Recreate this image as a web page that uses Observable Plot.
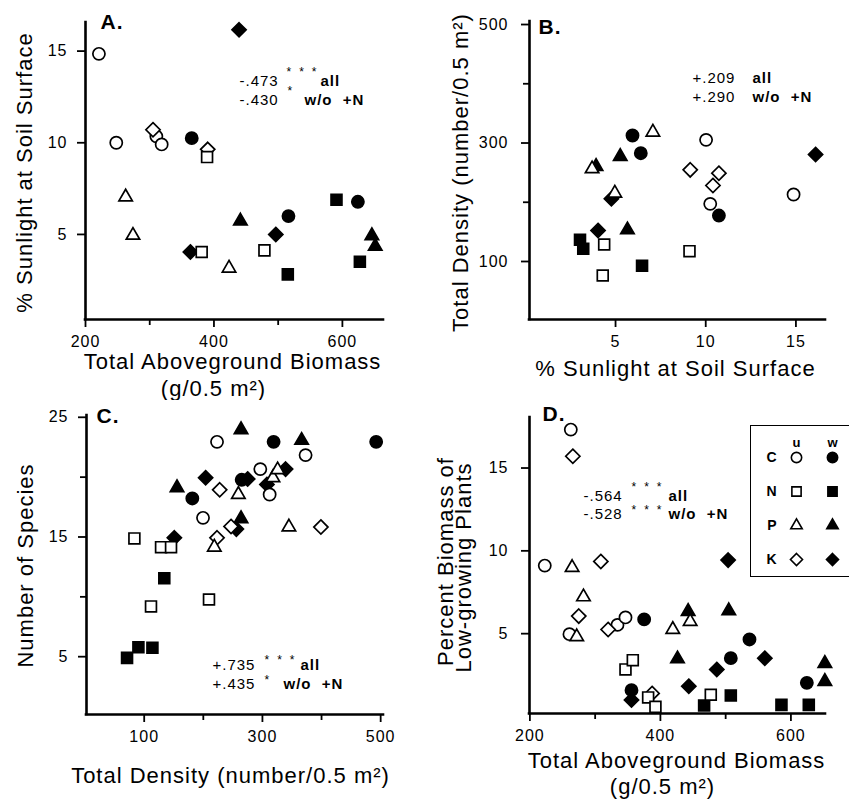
<!DOCTYPE html>
<html><head><meta charset="utf-8">
<script src="https://cdn.jsdelivr.net/npm/d3@7"></script>
<script src="https://cdn.jsdelivr.net/npm/@observablehq/plot@0.6"></script>
<style>
html,body{margin:0;padding:0;background:#fff;overflow:hidden}
#fig{position:relative;width:849px;height:802px;overflow:hidden}
#fig>svg{position:absolute;max-width:none}
</style></head><body><div id="fig"></div>
<script>
// ---------- DATA (group code: treatment letter + u/w) ----------
// Panel A: Total aboveground biomass vs % sunlight at soil surface
const aGroup = ["Cu","Cu","Cu","Cu","Ku","Ku","Nu","Nu","Nu","Cw","Cw","Cw","Kw","Kw","Kw","Pu","Pu","Pu","Pw","Pw","Pw","Nw","Nw","Nw"];
const aX = [220.9,247.9,310.3,318.6,305.1,390.3,389.3,380.9,478.6,365.4,516.0,624.1,439.1,363.3,496.3,262.5,273.9,423.5,441.2,645.9,651.1,515.0,590.8,627.2];
const aY = [14.85,10.0,10.35,9.91,10.71,9.64,9.22,4.04,4.13,10.25,6.0,6.78,16.16,4.04,5.0,7.04,4.95,3.16,5.73,4.93,4.35,2.82,6.89,3.51];

// Panel B: % sunlight vs total density
const bGroup = ["Cw","Cw","Cw","Pu","Pu","Pu","Pw","Pw","Pw","Kw","Kw","Kw","Nw","Nw","Nw","Nu","Nu","Nu","Cu","Cu","Cu","Ku","Ku","Ku"];
const bX = [5.94,6.40,10.73,7.07,3.70,4.96,5.26,3.92,5.66,4.77,4.03,16.09,3.03,3.21,6.47,4.37,4.29,9.10,10.02,10.25,14.87,9.14,10.73,10.40];
const bY = [312.7,282.8,177.6,318.3,256.4,215.3,277.2,260.3,153.4,205.8,152.3,280.6,136.6,121.4,92.7,128.7,76.4,117.4,305.3,197.3,213.1,254.7,249.1,228.3];

// Panel C: total density vs number of species
const cGroup = ["Nw","Nw","Nw","Nw","Nu","Nu","Nu","Nu","Nu","Kw","Kw","Kw","Kw","Kw","Kw","Pw","Pw","Pw","Pw","Cw","Cw","Cw","Cw","Cu","Cu","Cu","Cu","Cu","Ku","Ku","Ku","Ku","Pu","Pu","Pu","Pu","Pu"];
const cX = [71.0,90.2,113.9,134.0,111.5,83.4,128.5,145.4,209.6,151.0,203.9,255.9,275.0,339.2,307.6,155.5,263.8,263.8,366.3,181.4,264.9,318.9,492.4,199.5,223.2,296.4,312.2,373.0,227.7,223.2,246.9,398.9,218.6,259.3,317.8,325.7,344.8];
const cY = [4.90,5.79,5.74,11.56,9.20,14.88,14.15,14.15,9.78,14.93,19.95,15.66,19.84,20.67,19.39,19.11,16.52,23.96,23.07,18.22,19.78,22.95,22.95,16.60,22.95,20.67,18.55,21.84,18.94,14.93,15.88,15.83,14.15,18.55,19.95,20.61,15.83];

// Panel D: total aboveground biomass vs percent biomass of low-growing plants
const dGroup = ["Cu","Cu","Cu","Cu","Cu","Ku","Ku","Ku","Ku","Ku","Pu","Pu","Pu","Pu","Pu","Cw","Cw","Cw","Cw","Cw","Nu","Nu","Nu","Nu","Nu","Kw","Kw","Kw","Kw","Kw","Pw","Pw","Pw","Pw","Pw","Nw","Nw","Nw","Nw"];
const dX = [262.7,222.8,260.6,334.2,346.5,265.8,308.7,274.9,319.9,387.3,264.7,282.1,271.8,419.0,445.6,375.1,355.7,507.9,536.5,624.4,346.5,357.7,381.2,392.4,477.2,355.7,443.5,486.4,503.8,560.0,426.2,442.5,504.8,652.0,652.0,467.0,507.9,585.5,627.4];
const dY = [17.32,9.11,4.97,5.53,5.98,15.71,9.36,6.06,5.25,1.39,8.99,7.22,4.81,5.25,5.73,5.86,1.59,3.52,4.65,2.03,2.84,3.40,1.15,0.58,1.31,0.99,1.83,2.84,9.44,3.52,3.48,6.34,6.38,3.20,2.11,0.66,1.27,0.70,0.70];

// Tick values
const aXMajor = [200,400,600], aXMinor = [300,500], aYMajor = [5,10,15];
const bXMajor = [5,10,15], bYMajor = [100,300,500], bYMinor = [200,400];
const cXMajor = [100,300,500], cXMinor = [200,400], cYMajor = [5,15,25], cYMinor = [10,20];
const dXMajor = [200,400,600], dXMinor = [300,500], dYMajor = [5,10,15];

// Correlation annotations
const aStats = ["-.473","-.430"], bStats = ["+.209","+.290"], cStats = ["+.735","+.435"], dStats = ["-.564","-.528"];

// Legend
const legTreat = ["C","N","P","K"], legState = ["u","w"];

// ---------- RENDERING ----------
const FONT = "'Liberation Sans', Arial, Helvetica, sans-serif";
const fillOf = {u: "white", w: "black"};
function symbols(k = 1) {
  const mk = (sym, size) => ({draw(ctx) { sym.draw(ctx, size * k * k); }});
  return [mk(d3.symbolCircle, 116), mk(d3.symbolSquare, 118), mk(d3.symbolTriangle, 78), mk(d3.symbolDiamond2, 128)];
}
const fig = document.getElementById("fig");

function panel(c) {
  const data = c.groups.map((g, i) => ({t: g[0], s: g[1], x: c.xs[i], y: c.ys[i]}))
    .sort((a, b) => (a.s === "u") - (b.s === "u"));
  const lab = (s, x, y, o = {}) => Plot.text([s], {text: d => d, frameAnchor: "top-left",
    dx: x - c.ml, dy: y - c.mt, lineAnchor: "bottom", textAnchor: "start", fontSize: 15, ...o});
  const marks = [
    Plot.dot(data, {x: "x", y: "y", symbol: "t", fill: d => fillOf[d.s], stroke: "black", strokeWidth: 1.7}),
    Plot.ruleX([c.xd[0]], {strokeWidth: 2.6, strokeLinecap: "square"}),
    Plot.ruleY([c.yd[0]], {strokeWidth: 2.6, strokeLinecap: "square"}),
    Plot.axisX(c.xMajor, {tickSize: 8, tickPadding: 8, fontSize: 16, strokeWidth: 1.8, tickFormat: d => String(d), label: null}),
    Plot.axisY(c.yMajor, {tickSize: 8, tickPadding: c.ypad, fontSize: 16, strokeWidth: 1.8, tickFormat: d => String(d), label: null})
  ];
  if (c.xMinor) marks.push(Plot.axisX(c.xMinor, {tickSize: 6, strokeWidth: 1.8, tickFormat: () => "", label: null}));
  if (c.yMinor) marks.push(Plot.axisY(c.yMinor, {tickSize: 6, strokeWidth: 1.8, tickFormat: () => "", label: null}));
  for (const t of c.texts) marks.push(lab(...t));
  const svg = Plot.plot({
    width: c.w, height: c.h, marginLeft: c.ml, marginRight: c.mr, marginTop: c.mt, marginBottom: c.mb,
    x: {domain: c.xd}, y: {domain: c.yd},
    symbol: {domain: legTreat, range: symbols()},
    color: {type: "identity"},
    style: {fontFamily: FONT, fontSize: "16px", letterSpacing: "1px", background: "white", overflow: "visible"},
    marks
  });
  svg.style.left = c.left + "px"; svg.style.top = c.top + "px";
  fig.appendChild(svg);
}

const T = 22; // axis title size
const nb = "\u00a0";
const star3 = "*\u2002*\u2002*";
const PL = {fontSize: 21, fontWeight: "bold"};

panel({left: 0, top: 0, w: 425, h: 400, ml: 85, mr: 42, mt: 22, mb: 81,
  xd: [200, 664], yd: [0.36, 16.56], groups: aGroup, xs: aX, ys: aY,
  xMajor: aXMajor, xMinor: aXMinor, yMajor: aYMajor, ypad: 10,
  texts: [
    ["A.", 100, 28, PL],
    [aStats[0], 239, 85], [star3, 286, 75, {fontSize: 12}], ["all", 320, 85, {fontWeight: "bold"}],
    [aStats[1], 239, 104], ["*", 287, 94, {fontSize: 12}], ["w/o" + nb + nb + "+N", 304, 104, {fontWeight: "bold"}],
    ["Total Aboveground Biomass", 232, 368, {fontSize: T, textAnchor: "middle"}],
    ["(g/0.5 m²)", 213, 395, {fontSize: T, textAnchor: "middle"}],
    ["% Sunlight at Soil Surface", 31, 172, {fontSize: T, textAnchor: "middle", rotate: -90}]
  ]});

panel({left: 425, top: 0, w: 424, h: 400, ml: 104, mr: 24, mt: 21, mb: 81,
  xd: [0.23, 16.64], yd: [2.1, 505.1], groups: bGroup, xs: bX, ys: bY,
  xMajor: bXMajor, yMajor: bYMajor, yMinor: bYMinor, ypad: 13,
  texts: [
    ["B.", 113, 33, PL],
    [bStats[0], 267, 82], ["all", 327, 82, {fontWeight: "bold"}],
    [bStats[1], 267, 101], ["w/o" + nb + nb + "+N", 327, 101, {fontWeight: "bold"}],
    ["% Sunlight at Soil Surface", 250, 375, {fontSize: T, textAnchor: "middle"}],
    ["Total Density (number/0.5 m²)", 42, 172, {fontSize: T, textAnchor: "middle", rotate: -90}]
  ]});

panel({left: 0, top: 400, w: 425, h: 402, ml: 86, mr: 42, mt: 15, mb: 88,
  xd: [2.4, 504.8], yd: [0.17, 25.15], groups: cGroup, xs: cX, ys: cY,
  xMajor: cXMajor, xMinor: cXMinor, yMajor: cYMajor, yMinor: cYMinor, ypad: 10,
  texts: [
    ["C.", 96, 22, PL],
    [cStats[0], 212, 269], [star3, 264, 263, {fontSize: 12}], ["all", 300, 269, {fontWeight: "bold"}],
    [cStats[1], 212, 288], ["*", 264, 283, {fontSize: 12}], ["w/o" + nb + nb + "+N", 283, 288, {fontWeight: "bold"}],
    ["Total Density (number/0.5 m²)", 230, 382, {fontSize: T, textAnchor: "middle"}],
    ["Number of Species", 32, 165, {fontSize: T, textAnchor: "middle", rotate: -90}]
  ]});

panel({left: 425, top: 400, w: 424, h: 402, ml: 104, mr: 24, mt: 17, mb: 89,
  xd: [199.4, 653], yd: [0.18, 18.05], groups: dGroup, xs: dX, ys: dY,
  xMajor: dXMajor, xMinor: dXMinor, yMajor: dYMajor, ypad: 13,
  texts: [
    ["D.", 117, 20, PL],
    [dStats[0], 158, 100], [star3, 206, 90, {fontSize: 12}], ["all", 243, 100, {fontWeight: "bold"}],
    [dStats[1], 158, 118], [star3, 206, 113, {fontSize: 12}], ["w/o" + nb + nb + "+N", 243, 118, {fontWeight: "bold"}],
    ["Total Aboveground Biomass", 251, 367, {fontSize: T, textAnchor: "middle"}],
    ["(g/0.5 m²)", 237, 393, {fontSize: T, textAnchor: "middle"}],
    ["Percent Biomass of", 27, 161, {fontSize: T, textAnchor: "middle", rotate: -90}],
    ["Low-growing Plants", 45, 167, {fontSize: T, textAnchor: "middle", rotate: -90}]
  ]});

// Legend (inside panel D, top right)
const legData = legTreat.flatMap(t => legState.map(s => ({t, s})));
const leg = Plot.plot({
  width: 101, height: 152, marginLeft: 30, marginTop: 24, marginRight: 0, marginBottom: 0,
  x: {type: "point", domain: legState, range: [46, 82], padding: 0},
  y: {type: "point", domain: legTreat, range: [32, 134], padding: 0},
  symbol: {domain: legTreat, range: symbols(0.85)},
  color: {type: "identity"},
  style: {fontFamily: FONT, background: "white", outline: "1.5px solid black", outlineOffset: "-1px"},
  marks: [
    Plot.dot(legData, {x: "s", y: "t", symbol: "t", fill: d => fillOf[d.s], stroke: "black", strokeWidth: 1.6}),
    Plot.axisX({anchor: "top", tickSize: 0, tickPadding: 3, fontSize: 13, fontWeight: "bold", label: null}),
    Plot.axisY({anchor: "left", tickSize: 0, tickPadding: 4, fontSize: 14, fontWeight: "bold", label: null})
  ]
});
leg.style.left = "750px"; leg.style.top = "425px";
fig.appendChild(leg);
</script></body></html>
